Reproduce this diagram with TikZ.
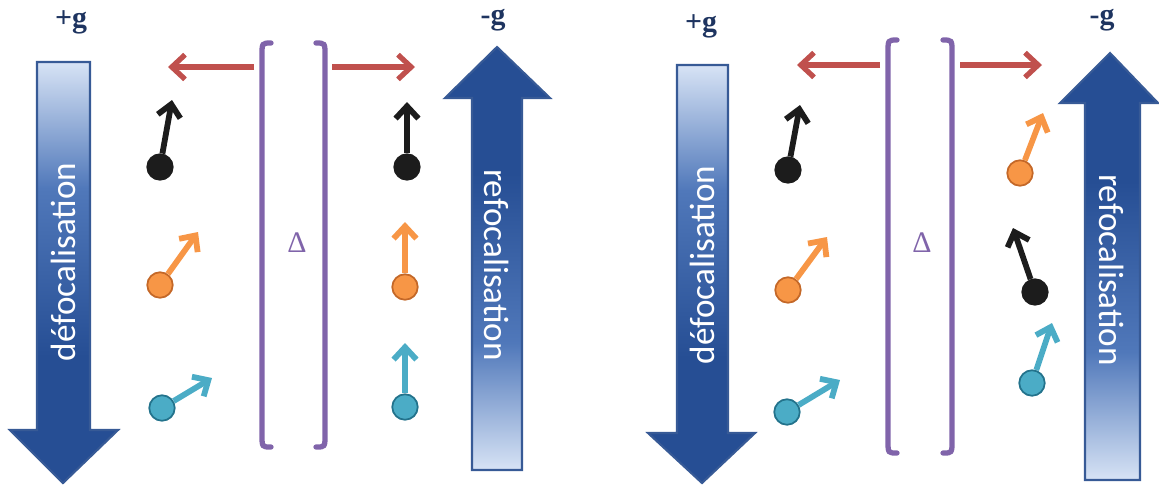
\documentclass[tikz,border=0pt]{standalone}
\usepackage{fontspec}
\setmainfont{Liberation Serif}
\newfontfamily\calibfont{Carlito}
\usetikzlibrary{arrows.meta}
\definecolor{gradred}{RGB}{192,80,77}
\definecolor{gradpurple}{RGB}{128,100,170}
\definecolor{spinblack}{RGB}{28,28,28}
\definecolor{spinorange}{RGB}{247,150,70}
\definecolor{spinorangedark}{RGB}{196,104,40}
\definecolor{spincyan}{RGB}{75,172,198}
\definecolor{spincyandark}{RGB}{35,115,140}
\definecolor{bluedark}{RGB}{38,78,148}
\definecolor{bluemid}{RGB}{80,120,186}
\definecolor{bluelight}{RGB}{215,227,245}
\definecolor{blueedge}{RGB}{55,90,150}
\definecolor{gradtext}{RGB}{30,52,96}
%% gradients: light at the tail of the big arrows
\pgfdeclareverticalshading{tailtop}{100bp}{color(0bp)=(bluedark); color(25bp)=(bluedark); color(40bp)=(bluedark); color(60bp)=(bluemid); color(75bp)=(bluelight); color(100bp)=(bluelight)}
\pgfdeclareverticalshading{tailbottom}{100bp}{color(0bp)=(bluelight); color(25bp)=(bluelight); color(40bp)=(bluemid); color(60bp)=(bluedark); color(75bp)=(bluedark); color(100bp)=(bluedark)}
\tikzset{
    bigarrow/.style={draw=blueedge,line width=1.2pt},
    arrowtext/.style={text=white,font=\calibfont\fontsize{20}{22}\selectfont},
    gradlabel/.style={text=gradtext,font=\bfseries\fontsize{17}{19}\selectfont},
    deltalabel/.style={text=gradpurple,font=\fontsize{17}{19}\selectfont},
    bracket/.style={draw=gradpurple,line width=3pt,line cap=round},
    redarrow/.style={draw=gradred,line width=3pt,-{Straight Barb[length=7.5pt,width=14pt,line width=3pt]}},
    spin/.style={circle,inner sep=0pt,minimum size=14.5pt,line width=1pt},
    spinarrow/.style={line width=3.3pt,-{Straight Barb[length=7pt,width=13pt,line width=3.3pt]}}
}
\begin{document}
\begin{tikzpicture}[x=0.02cm,y=-0.02cm]
    \useasboundingbox (0,0) rectangle (1159,485);
    %% left panel
    \path[bigarrow,shading=tailtop]
        (37,62) -- (90,62) -- (90,430) -- (118,430) -- (63,483) -- (10,430) -- (37,430) -- cycle;
    \path[bigarrow,shading=tailbottom]
        (472,470) -- (522,470) -- (522,98) -- (550,98) -- (497,47) -- (445,98) -- (472,98) -- cycle;
    \node[arrowtext,rotate=90] (defocA) at (63,262) {défocalisation};
    \node[arrowtext,rotate=-90] (refocA) at (497,265) {refocalisation};
    \node[gradlabel] (plusA) at (71,22) {+g};
    \node[gradlabel] (minusA) at (493,20) {-g};
    % brackets
    \draw[bracket] (271,43) .. controls (262,43) .. (262,55) -- (262,435) .. controls (262,447) .. (271,447);
    \draw[bracket] (316,43) .. controls (325,43) .. (325,55) -- (325,435) .. controls (325,447) .. (316,447);
    \node[deltalabel] (deltaA) at (297,243) {Δ};
    \coordinate (bracketAl) at (254,67);
    \coordinate (bracketAr) at (332,67);
    \coordinate (tipAl) at (168,67);
    \coordinate (tipAr) at (415,67);
    \draw[redarrow] (bracketAl) -- (tipAl);
    \draw[redarrow] (bracketAr) -- (tipAr);
    %% right panel
    \path[bigarrow,shading=tailtop]
        (677,65) -- (728,65) -- (728,433) -- (755,433) -- (702,483) -- (648,433) -- (677,433) -- cycle;
    \path[bigarrow,shading=tailbottom]
        (1085,480) -- (1140,480) -- (1140,103) -- (1158,103) -- (1110,53) -- (1060,103) -- (1085,103) -- cycle;
    \node[arrowtext,rotate=90] (defocB) at (702,265) {défocalisation};
    \node[arrowtext,rotate=-90] (refocB) at (1112,270) {refocalisation};
    \node[gradlabel] (plusB) at (701,26) {+g};
    \node[gradlabel] (minusB) at (1102,20) {-g};
    % brackets
    \draw[bracket] (897,40) .. controls (888,40) .. (888,52) -- (888,441) .. controls (888,453) .. (897,453);
    \draw[bracket] (943,40) .. controls (952,40) .. (952,52) -- (952,441) .. controls (952,453) .. (943,453);
    \node[deltalabel] (deltaB) at (922,243) {Δ};
    \coordinate (bracketBl) at (880,65);
    \coordinate (bracketBr) at (960,65);
    \coordinate (tipBl) at (797,65);
    \coordinate (tipBr) at (1042,65);
    \draw[redarrow] (bracketBl) -- (tipBl);
    \draw[redarrow] (bracketBr) -- (tipBr);
    %% spins
    \foreach \n/\c/\d/\x/\y/\tx/\ty in {
        1/spinblack/spinblack/160/167/172/100,
        2/spinorange/spinorangedark/160/285/198/232,
        3/spincyan/spincyandark/162/408/212/378,
        4/spinblack/spinblack/407/167/407/102,
        5/spinorange/spinorangedark/405/287/405/222,
        6/spincyan/spincyandark/405/407/405/343,
        7/spinblack/spinblack/788/170/800/105,
        8/spinorange/spinorangedark/788/290/827/237,
        9/spincyan/spincyandark/787/412/840/380,
        10/spinorange/spinorangedark/1020/173/1043/113,
        11/spinblack/spinblack/1035/292/1013/228,
        12/spincyan/spincyandark/1032/383/1052/323}{
        \node[spin,fill=\c,draw=\d] (s\n) at (\x,\y) {};
        \coordinate (s\n tip) at (\tx,\ty);
        \draw[spinarrow,draw=\c] (s\n) -- (s\n tip);
    }
\end{tikzpicture}
\end{document}
